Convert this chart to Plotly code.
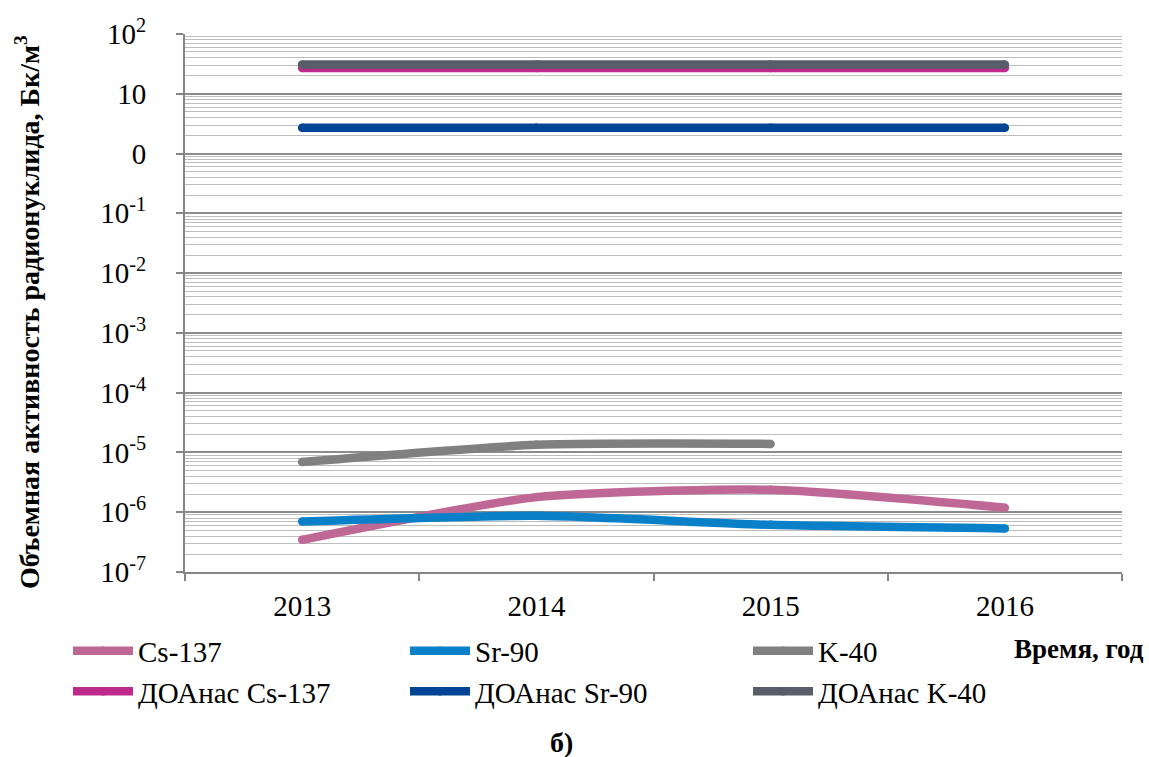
import plotly.graph_objects as go

# Years of observation
years = ["2013", "2014", "2015", "2016"]

# Measured volumetric activity, Bq/m3
cs137 = [3.45e-7, 1.79e-6, 2.37e-6, 1.19e-6]
sr90 = [7.0e-7, 8.7e-7, 6.15e-7, 5.35e-7]
k40 = [6.9e-6, 1.34e-5, 1.39e-5, None]

# Permissible volumetric activity for the population (ДОАнас), Bq/m3
doa_cs137 = [27, 27, 27, 27]
doa_sr90 = [2.7, 2.7, 2.7, 2.7]
doa_k40 = [31, 31, 31, 31]

# Y tick labels (decades)
y_tickvals = [1e2, 1e1, 1e0, 1e-1, 1e-2, 1e-3, 1e-4, 1e-5, 1e-6, 1e-7]
y_ticktext = ["10<sup>2</sup>", "10", "0", "10<sup>-1</sup>", "10<sup>-2</sup>",
              "10<sup>-3</sup>", "10<sup>-4</sup>", "10<sup>-5</sup>",
              "10<sup>-6</sup>", "10<sup>-7</sup>"]

# name, values, colour, legend column
series = [
    ("Cs-137", cs137, "#C06895", "legend"),
    ("Sr-90", sr90, "#0A80C9", "legend2"),
    ("K-40", k40, "#808080", "legend3"),
    ("ДОАнас Cs-137", doa_cs137, "#BE2A8B", "legend"),
    ("ДОАнас Sr-90", doa_sr90, "#004595", "legend2"),
    ("ДОАнас K-40", doa_k40, "#575E69", "legend3"),
]

FONT = "Liberation Serif, Times New Roman, serif"
LW = 8.5

# plot area in pixels, used to place the free-standing labels
L, R, T, B = 185, 27, 34, 185
W, H = 1149, 757
PW, PH = W - L - R, H - T - B


def px(x):
    return (x - L) / PW


def py(y):
    return (H - B - y) / PH


fig = go.Figure()
# permissible levels first (K-40 level above the Cs-137 level), then measurements
for i in [3, 4, 5, 2, 0, 1]:
    name, vals, color, leg = series[i]
    fig.add_trace(go.Scatter(
        x=years, y=vals, name=name, mode="lines+markers",
        line=dict(color=color, width=LW, shape="spline", smoothing=0.6),
        marker=dict(color=color, size=LW, line=dict(width=0)),
        legend=leg, legendrank=i + 1, showlegend=True,
    ))

minor_vals = [m * 10.0 ** e for e in range(-7, 2) for m in range(2, 10)]


def legend_at(x_px):
    return dict(
        orientation="v", xref="container", yref="container",
        x=x_px / W, y=0.174, xanchor="left", yanchor="top",
        itemwidth=60, tracegroupgap=0,
        font=dict(family=FONT, size=29, color="black"),
        traceorder="normal", bgcolor="rgba(0,0,0,0)",
    )


fig.update_layout(
    width=W, height=H,
    margin=dict(l=L, r=R, t=T, b=B, autoexpand=False),
    paper_bgcolor="white", plot_bgcolor="white",
    font=dict(family=FONT, size=27, color="black"),
    showlegend=True,
    legend=legend_at(68),
    legend2=legend_at(405),
    legend3=legend_at(748),
    xaxis=dict(
        type="category", range=[-0.5, 3.5], automargin=False,
        showline=True, linecolor="#868686", linewidth=2,
        ticks="outside", ticklen=7, tickwidth=2, tickcolor="#868686",
        tickson="boundaries", showgrid=False,
        tickfont=dict(family=FONT, size=29, color="black"),
        ticklabelstandoff=7,
    ),
    yaxis=dict(
        type="log", range=[-7, 2], automargin=False,
        tickmode="array", tickvals=y_tickvals, ticktext=y_ticktext,
        showline=True, linecolor="#868686", linewidth=2,
        ticks="outside", ticklen=7, tickwidth=2, tickcolor="#868686",
        showgrid=True, gridcolor="#8C8C8C", gridwidth=1.5,
        minor=dict(tickmode="array", tickvals=minor_vals, showgrid=True,
                   gridcolor="#BDBDBD", gridwidth=1, ticks=""),
        tickfont=dict(family=FONT, size=29, color="black"),
        ticklabelstandoff=24, zeroline=False,
    ),
    annotations=[
        dict(text="<b>Объемная активность радионуклида, Бк/м<sup>3</sup></b>",
             xref="paper", yref="paper", x=px(27), y=py(312),
             xanchor="center", yanchor="middle", textangle=-90,
             showarrow=False, font=dict(family=FONT, size=28, color="black")),
        dict(text="<b>Время, год</b>", xref="paper", yref="paper",
             x=px(1146), y=py(649), xanchor="right", yanchor="middle",
             showarrow=False, font=dict(family=FONT, size=27, color="black")),
        dict(text="<b>б)</b>", xref="paper", yref="paper",
             x=px(561), y=py(742), xanchor="center", yanchor="middle",
             showarrow=False, font=dict(family=FONT, size=28, color="black")),
    ],
)

fig.write_html("out.html")
